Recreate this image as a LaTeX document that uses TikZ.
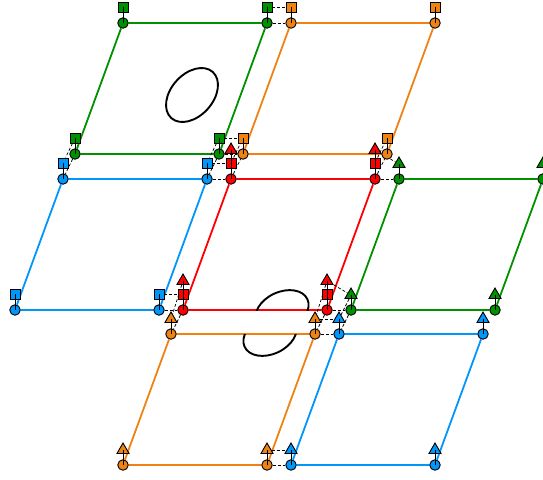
\documentclass[tikz,border=0pt]{standalone}
\usepackage{xcolor}
\usepackage{tikz}
\usetikzlibrary{shapes.geometric, positioning, calc, backgrounds}

\definecolor{grn}{RGB}{0,145,0}
\definecolor{org}{RGB}{240,130,20}
\definecolor{blu}{RGB}{0,150,250}
\definecolor{rd}{RGB}{255,0,0}

\begin{document}
\begin{tikzpicture}[x=1pt, y=-1pt,
    vtx/.style={circle, draw, line width=0.9pt, minimum size=10.5pt, inner sep=0pt},
    sqmark/.style={rectangle, draw, line width=0.9pt, minimum size=10pt, inner sep=0pt},
    trimark/.style={regular polygon, regular polygon sides=3, draw, line width=0.9pt, minimum size=14pt, inner sep=0pt},
    stick/.style={line width=0.9pt},
    glue/.style={densely dashed, line width=0.7pt},
    rim/.style={line width=1.8pt},
    ring/.style={line width=1.9pt}]
    \useasboundingbox (0,0) rectangle (543,479);

    % Sheets: corner vertices
    \foreach \s/\x/\y/\c in {gt/75/154/grn, ot/243/154/org, bl/15/310/blu, rd/183/310/rd,
                             gr/351/310/grn, ob/123/465/org, bb/291/465/blu} {
      \node[vtx, fill=\c] (\s-sw) at (\x,\y) {};
      \node[vtx, fill=\c] (\s-se) at (\x+144,\y) {};
      \node[vtx, fill=\c] (\s-nw) at (\x+48,\y-131) {};
      \node[vtx, fill=\c] (\s-ne) at (\x+192,\y-131) {};
    }

    % Markers above the vertices
    \foreach \s/\c in {gt/grn, ot/org, bl/blu, rd/rd}
      \foreach \k in {sw, se, nw, ne}
        \node[sqmark, fill=\c] (\s-\k-s) at ([yshift=16pt]\s-\k.center) {};
    \foreach \s/\c/\h in {gr/grn/15, ob/org/15, bb/blu/15, rd/rd/29}
      \foreach \k in {sw, se, nw, ne}
        \node[trimark, fill=\c] (\s-\k-t) at ([yshift=\h pt]\s-\k.center) {};
    \foreach \s/\m in {gt/s, ot/s, bl/s, rd/t, gr/t, ob/t, bb/t}
      \foreach \k in {sw, se, nw, ne}
        \draw[stick] (\s-\k.center) -- (\s-\k-\m.center);

    % Edges and gluing
    \begin{scope}[on background layer]
      \foreach \s/\c in {gt/grn, ot/org, bl/blu, rd/rd, gr/grn, ob/org, bb/blu}
        \draw[rim, \c] (\s-sw) -- (\s-se) -- (\s-ne) -- (\s-nw) -- (\s-sw);
      \foreach \a/\b/\m in {gt-ne/ot-nw/s, gt-sw/bl-nw/s, gt-se/ot-sw/s, gt-se/bl-ne/s,
                            bl-ne/rd-nw/s, rd-nw/ot-sw/s, rd-ne/ot-se/s, rd-ne/gr-nw/t,
                            bl-se/rd-sw/s, rd-sw/ob-nw/t, rd-se/gr-sw/t, rd-se/ob-ne/t,
                            ob-ne/bb-nw/t, gr-sw/bb-nw/t, ob-se/bb-sw/t} {
        \draw[glue] (\a) -- (\b);
        \draw[glue] (\a-\m) -- (\b-\m);
      }
    \end{scope}

    % Closed curves
    \draw[ring, rotate around={48:(192,95)}] (192,95) ellipse [x radius=31, y radius=21];
    \begin{scope}
      \clip (240,280) rectangle (320,310);
      \draw[ring, rotate around={25:(282,311)}] (282,311) ellipse [x radius=28, y radius=19];
    \end{scope}
    \begin{scope}
      \clip (228,334) rectangle (308,366);
      \draw[ring, rotate around={25:(270,335)}] (270,335) ellipse [x radius=28, y radius=19];
    \end{scope}
  \end{tikzpicture}
\end{document}
